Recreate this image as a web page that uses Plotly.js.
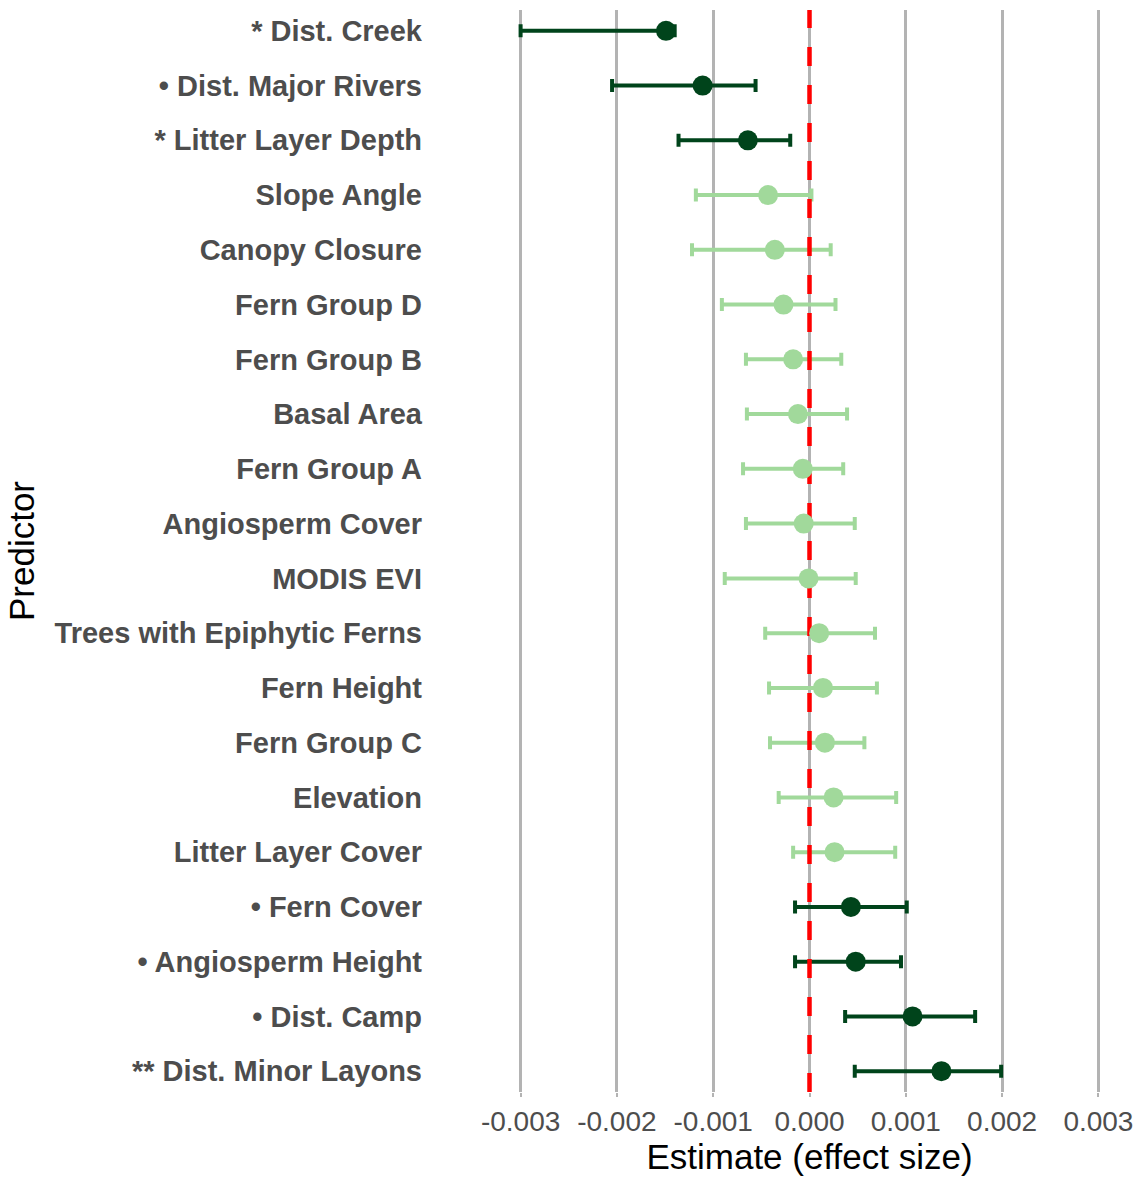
<!DOCTYPE html>
<html>
<head>
<meta charset="utf-8">
<script src="https://cdn.plot.ly/plotly-3.0.1.min.js"></script>
<style>html,body{margin:0;padding:0;background:#fff;}#chart{width:1141px;height:1178px;}</style>
</head>
<body>
<div id="chart"></div>
<script>
// Predictors, top to bottom
const predictors = [
  "* Dist. Creek",
  "• Dist. Major Rivers",
  "* Litter Layer Depth",
  "Slope Angle",
  "Canopy Closure",
  "Fern Group D",
  "Fern Group B",
  "Basal Area",
  "Fern Group A",
  "Angiosperm Cover",
  "MODIS EVI",
  "Trees with Epiphytic Ferns",
  "Fern Height",
  "Fern Group C",
  "Elevation",
  "Litter Layer Cover",
  "• Fern Cover",
  "• Angiosperm Height",
  "• Dist. Camp",
  "** Dist. Minor Layons"
];
const estimate = [
  -0.00149, -0.00111, -0.00064, -0.00043, -0.00036, -0.00027, -0.00017, -0.00012, -0.00007, -0.00006,
  -0.00001, 0.00010, 0.00014, 0.00016, 0.00025, 0.00026, 0.00043, 0.00048, 0.00107, 0.00137
];
const lower = [
  -0.00300, -0.00205, -0.00136, -0.00118, -0.00122, -0.00091, -0.00066, -0.00065, -0.00069, -0.00066,
  -0.00088, -0.00046, -0.00042, -0.00041, -0.00032, -0.00017, -0.00015, -0.00015, 0.00037, 0.00047
];
const upper = [
  -0.00140, -0.00056, -0.00020, 0.00002, 0.00022, 0.00027, 0.00033, 0.00039, 0.00035, 0.00047,
  0.00048, 0.00068, 0.00070, 0.00057, 0.00090, 0.00089, 0.00101, 0.00095, 0.00172, 0.00199
];
const significant = [
  true, true, true, false, false, false, false, false, false, false,
  false, false, false, false, false, false, true, true, true, true
];
const xTickValues = [-0.003, -0.002, -0.001, 0, 0.001, 0.002, 0.003];
const xTickLabels = ["-0.003", "-0.002", "-0.001", "0.000", "0.001", "0.002", "0.003"];

const sigColor = "#00441B";
const nsColor = "#A1D99B";
const font = "Liberation Sans, Arial, sans-serif";

const n = predictors.length;
const yPos = predictors.map((_, i) => n - 1 - i);
const yRange = [-0.38, n - 1 + 0.38];

function subset(flag) {
  const idx = predictors.map((_, i) => i).filter(i => significant[i] === flag);
  return {
    x: idx.map(i => estimate[i]),
    y: idx.map(i => yPos[i]),
    plus: idx.map(i => upper[i] - estimate[i]),
    minus: idx.map(i => estimate[i] - lower[i])
  };
}

function barTrace(flag, color) {
  const s = subset(flag);
  return {
    type: "scatter", mode: "markers", x: s.x, y: s.y,
    marker: {size: 1, color: "rgba(0,0,0,0)"},
    error_x: {type: "data", symmetric: false, array: s.plus, arrayminus: s.minus,
              color: color, thickness: 4, width: 6.5},
    hoverinfo: "skip", showlegend: false
  };
}
function pointTrace(flag, color) {
  const s = subset(flag);
  return {
    type: "scatter", mode: "markers", x: s.x, y: s.y,
    marker: {size: 20, color: color, line: {width: 0}},
    hoverinfo: "skip", showlegend: false
  };
}

const zeroLine = {
  type: "scatter", mode: "lines", x: [0, 0], y: [yRange[0], yRange[1]],
  line: {color: "#FF0000", width: 4.5, dash: "19px,19px"},
  hoverinfo: "skip", showlegend: false
};

const data = [
  barTrace(false, nsColor), barTrace(true, sigColor),
  zeroLine,
  pointTrace(false, nsColor), pointTrace(true, sigColor)
];

const layout = {
  width: 1141, height: 1178,
  margin: {l: 484, r: 6, t: 10, b: 86},
  paper_bgcolor: "#ffffff", plot_bgcolor: "#ffffff",
  showlegend: false,
  font: {family: font},
  xaxis: {
    range: [-0.00338, 0.00338],
    tickvals: xTickValues, ticktext: xTickLabels,
    showgrid: true, gridcolor: "#B3B3B3", gridwidth: 3,
    zeroline: false, showline: false,
    ticks: "outside", ticklen: 4, tickwidth: 2, tickcolor: "#B3B3B3",
    tickfont: {family: font, size: 28, color: "#4D4D4D"},
    title: {text: "Estimate (effect size)", font: {family: font, size: 35, color: "#000000"}, standoff: 8}
  },
  yaxis: {
    range: yRange,
    tickvals: yPos, ticktext: predictors,
    showgrid: false, zeroline: false, showline: false, ticks: "",
    ticklabelstandoff: 61,
    tickfont: {family: font, size: 29, color: "#4D4D4D", weight: "bold"},
    title: {text: "Predictor", font: {family: font, size: 35, color: "#000000"}, standoff: 9}
  }
};

Plotly.newPlot("chart", data, layout, {displayModeBar: false, staticPlot: true});
</script>
</body>
</html>
